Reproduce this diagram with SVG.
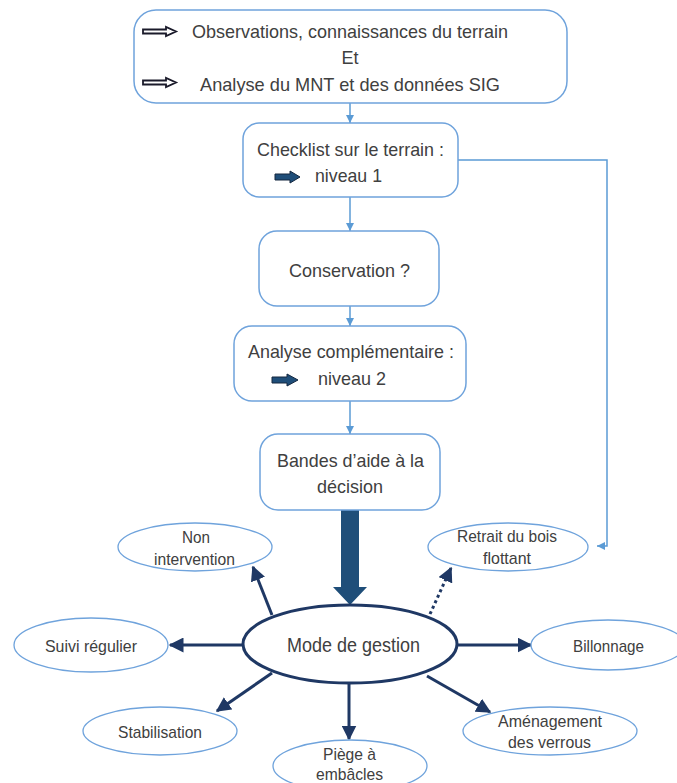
<svg xmlns="http://www.w3.org/2000/svg" width="677" height="783" viewBox="0 0 677 783">
<defs>
<style>
.box{fill:#fff;stroke:#6fa3dc;stroke-width:1.5}
.sat{fill:#fff;stroke:#6fa3dc;stroke-width:1.3}
.t{font-family:"Liberation Sans",Arial,sans-serif;fill:#404040;text-anchor:middle}
.t19{font-size:19px}
.t17{font-size:17px}
.lc{fill:none;stroke:#5b9bd5;stroke-width:1.5}
.dc{fill:none;stroke:#1f3864;stroke-width:3}
.dark{fill:#1f4e79;stroke:#14273f;stroke-width:1}
.open{fill:#fff;stroke:#1a1a2a;stroke-width:1.8}
</style>
<marker id="la" viewBox="0 0 10 10" refX="10" refY="5" markerWidth="8" markerHeight="8" markerUnits="userSpaceOnUse" orient="auto"><path d="M0,0L10,5L0,10z" fill="#5b9bd5"/></marker>
<marker id="da" viewBox="0 0 10 10" refX="9" refY="5" markerWidth="5" markerHeight="5" orient="auto"><path d="M0,0L10,5L0,10z" fill="#1f3864"/></marker>
</defs>

<g id="connectors">
<line class="lc" x1="350" y1="103" x2="350" y2="123" marker-end="url(#la)"/>
<line class="lc" x1="350" y1="197" x2="350" y2="231" marker-end="url(#la)"/>
<line class="lc" x1="350" y1="306" x2="350" y2="326" marker-end="url(#la)"/>
<line class="lc" x1="350" y1="401" x2="350" y2="434" marker-end="url(#la)"/>
<polyline class="lc" points="458,160 607,160 607,546 597,546" marker-end="url(#la)"/>
<path class="dark" d="M341,510H359V587H367L350,605L333,587H341Z" style="stroke:none"/>
<line class="dc" x1="272" y1="615" x2="253" y2="567" marker-end="url(#da)"/>
<line class="dc" x1="430" y1="614" x2="451" y2="568" stroke-dasharray="3,3" marker-end="url(#da)"/>
<line class="dc" x1="242" y1="645" x2="170" y2="645" marker-end="url(#da)"/>
<line class="dc" x1="457" y1="645" x2="531" y2="645" marker-end="url(#da)"/>
<line class="dc" x1="272" y1="673" x2="217" y2="711" marker-end="url(#da)"/>
<line class="dc" x1="349" y1="684" x2="349" y2="739" marker-end="url(#da)"/>
<line class="dc" x1="427" y1="676" x2="490" y2="712" marker-end="url(#da)"/>
</g>

<g id="n-sources">
<rect class="box" x="134" y="10" width="433" height="93" rx="22"/>
<path class="open" d="M143,29.5H166V27L176,31.5L166,36V33.5H143Z"/>
<path class="open" d="M143,80.5H166V78L176,82.5L166,87V84.5H143Z"/>
<text class="t t19" x="350" y="38" textLength="316" lengthAdjust="spacingAndGlyphs">Observations, connaissances du terrain</text>
<text class="t t19" x="350" y="64" textLength="17" lengthAdjust="spacingAndGlyphs">Et</text>
<text class="t t19" x="350" y="91" textLength="300" lengthAdjust="spacingAndGlyphs">Analyse du MNT et des données SIG</text>
</g>

<g id="n-checklist">
<rect class="box" x="243" y="123" width="215" height="74" rx="16"/>
<text class="t t19" x="350.5" y="156" textLength="187" lengthAdjust="spacingAndGlyphs">Checklist sur le terrain :</text>
<path class="dark" d="M275,174H290V171L300,177L290,183V180H275Z"/>
<text class="t t19" x="348.5" y="182" textLength="67" lengthAdjust="spacingAndGlyphs">niveau 1</text>
</g>

<g id="n-conservation">
<rect class="box" x="259" y="231" width="180" height="75" rx="18"/>
<text class="t t19" x="349.5" y="277" textLength="121" lengthAdjust="spacingAndGlyphs">Conservation ?</text>
</g>

<g id="n-analyse">
<rect class="box" x="234" y="326" width="232" height="75" rx="18"/>
<text class="t t19" x="351" y="358" textLength="206" lengthAdjust="spacingAndGlyphs">Analyse complémentaire :</text>
<path class="dark" d="M272,377H287V374L298,380L287,386V383H272Z"/>
<text class="t t19" x="352" y="385" textLength="68" lengthAdjust="spacingAndGlyphs">niveau 2</text>
</g>

<g id="n-bandes">
<rect class="box" x="260" y="434" width="180" height="76" rx="18"/>
<text class="t t19" x="350.5" y="467" textLength="147" lengthAdjust="spacingAndGlyphs">Bandes d’aide à la</text>
<text class="t t19" x="350" y="493" textLength="66" lengthAdjust="spacingAndGlyphs">décision</text>
</g>

<g id="n-mode">
<ellipse cx="350" cy="644" rx="107" ry="39" fill="#fff" stroke="#1f3864" stroke-width="3"/>
<text class="t" style="font-size:20px" x="353.5" y="652" textLength="133" lengthAdjust="spacingAndGlyphs">Mode de gestion</text>
</g>

<g id="n-non">
<ellipse class="sat" cx="195" cy="547" rx="77" ry="24"/>
<text class="t t17" x="196" y="543" textLength="28" lengthAdjust="spacingAndGlyphs">Non</text>
<text class="t t17" x="194.5" y="565" textLength="81" lengthAdjust="spacingAndGlyphs">intervention</text>
</g>

<g id="n-retrait">
<ellipse class="sat" cx="508" cy="547" rx="80" ry="24"/>
<text class="t t17" x="507" y="542" textLength="100" lengthAdjust="spacingAndGlyphs">Retrait du bois</text>
<text class="t t17" x="507" y="564" textLength="48" lengthAdjust="spacingAndGlyphs">flottant</text>
</g>

<g id="n-suivi">
<ellipse class="sat" cx="91" cy="645" rx="77" ry="27"/>
<text class="t t17" x="91" y="652" textLength="92" lengthAdjust="spacingAndGlyphs">Suivi régulier</text>
</g>

<g id="n-billonnage">
<ellipse class="sat" cx="608" cy="645" rx="77" ry="25"/>
<text class="t t17" x="608.5" y="652" textLength="71" lengthAdjust="spacingAndGlyphs">Billonnage</text>
</g>

<g id="n-stabilisation">
<ellipse class="sat" cx="160" cy="731" rx="77" ry="24"/>
<text class="t t17" x="160" y="738" textLength="84" lengthAdjust="spacingAndGlyphs">Stabilisation</text>
</g>

<g id="n-piege">
<ellipse class="sat" cx="350" cy="766" rx="77" ry="26"/>
<text class="t t17" x="349.5" y="760" textLength="53" lengthAdjust="spacingAndGlyphs">Piège à</text>
<text class="t t17" x="349.5" y="780" textLength="67" lengthAdjust="spacingAndGlyphs">embâcles</text>
</g>

<g id="n-amenagement">
<ellipse class="sat" cx="550" cy="731" rx="87" ry="24"/>
<text class="t t17" x="550" y="727" textLength="104" lengthAdjust="spacingAndGlyphs">Aménagement</text>
<text class="t t17" x="549.5" y="748" textLength="83" lengthAdjust="spacingAndGlyphs">des verrous</text>
</g>
</svg>
